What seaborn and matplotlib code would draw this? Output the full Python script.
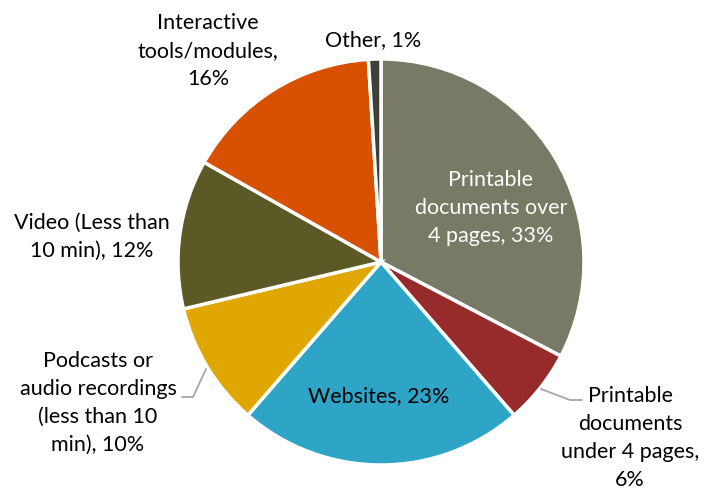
import matplotlib
matplotlib.use("Agg")
import matplotlib.pyplot as plt
import seaborn as sns

categories = ["Printable documents over 4 pages", "Printable documents under 4 pages",
              "Websites", "Podcasts or audio recordings (less than 10 min)",
              "Video (Less than 10 min)", "Interactive tools/modules", "Other"]
values = [33, 6, 23, 10, 12, 16, 1]
labels = ["Printable\ndocuments over\n4 pages, 33%",
          "Printable\ndocuments\nunder 4 pages,\n6%",
          "Websites, 23%",
          "Podcasts or\naudio recordings\n(less than 10\nmin), 10%",
          "Video (Less than\n10 min), 12%",
          "Interactive\ntools/modules,\n16%",
          "Other, 1%"]
colors = ["#797a66", "#972a2b", "#2ea5c6", "#e0a700", "#5b5a26", "#d85002", "#3e3f39"]

sns.set_theme(style="white")
plt.rcParams['font.family'] = ['Lato', 'DejaVu Sans']

W, H = 707, 492
fig = plt.figure(figsize=(W / 100, H / 100), dpi=100)
ax = fig.add_axes([0, 0, 1, 1])

def Y(y):
    return H - y

cx, cy, r = 381, 262, 203
ax.pie(values, colors=sns.color_palette(colors), startangle=90, counterclock=False,
       center=(cx, Y(cy)), radius=r, frame=True,
       wedgeprops=dict(edgecolor="white", linewidth=2.5))
ax.set_xlim(0, W)
ax.set_ylim(0, H)
ax.set_aspect("equal")
ax.axis("off")

fs = 15.5
ls = 1.5
pos = [(491, 208, "white"), (630, 438, "black"), (379, 396, "black"),
       (98, 403, "black"), (92, 237, "black"), (208, 51, "black"), (373, 40, "black")]
for lab, (x, y, c) in zip(labels, pos):
    ax.text(x, Y(y), lab, ha="center", va="center", fontsize=fs, color=c,
            linespacing=ls)

# leader lines
ax.plot([541, 570, 582], [Y(389), Y(400), Y(400)], color="#a6a6a6", lw=1.3)
ax.plot([206, 193, 182], [Y(369), Y(397), Y(397)], color="#a6a6a6", lw=1.3)

fig.savefig("out.png", dpi=100, facecolor="white")
